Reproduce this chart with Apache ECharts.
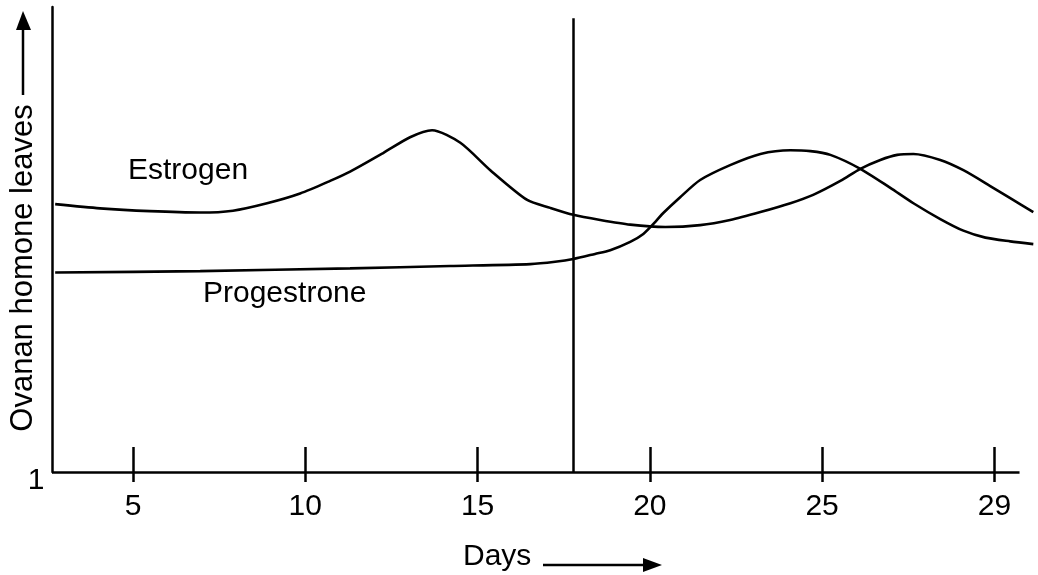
<!DOCTYPE html>
<html>
<head>
<meta charset="utf-8">
<script src="https://cdn.jsdelivr.net/npm/echarts@6/dist/echarts.min.js"></script>
<style>
html,body{margin:0;padding:0;background:#fff;}
#chart{width:1038px;height:575px;}
</style>
</head>
<body>
<div id="chart"></div>
<script>
// Data (x in axis units; the last tick position is labelled 29 in the source)
var estrogenDays = [2.74, 4.04, 5.49, 6.95, 7.90, 8.89, 9.85, 10.72, 11.30, 12.26, 13.04, 13.68, 14.50, 15.37, 16.44, 17.11, 17.78, 18.56, 19.43, 20.45, 21.46, 22.33, 23.21, 24.08, 24.74, 25.53, 26.11, 26.69, 27.18, 27.65, 28.43, 29.10, 29.88, 30.46, 31.13];
var estrogenVals = [57.6, 56.7, 56.1, 55.8, 56.2, 57.8, 59.9, 62.6, 64.6, 68.6, 72.0, 73.5, 70.8, 64.9, 58.5, 56.8, 55.3, 54.2, 53.2, 52.7, 53.1, 54.2, 55.9, 57.8, 59.6, 62.6, 65.2, 67.1, 68.2, 68.4, 67.1, 64.9, 61.5, 58.9, 55.9];
var progDays = [2.74, 6.95, 11.30, 14.20, 16.53, 17.25, 17.78, 18.41, 18.85, 19.43, 19.81, 20.16, 20.39, 20.88, 21.46, 22.33, 23.21, 24.08, 24.66, 25.24, 26.11, 26.98, 27.65, 28.43, 29.10, 29.74, 30.46, 31.13];
var progVals = [42.9, 43.2, 43.8, 44.3, 44.7, 45.2, 45.8, 46.9, 47.7, 49.5, 51.2, 53.8, 55.7, 59.1, 62.8, 66.0, 68.4, 69.2, 69.0, 68.2, 65.2, 61.1, 57.8, 54.4, 51.9, 50.4, 49.6, 49.0];
var tickPositions = [5, 10, 15, 20, 25, 30];
var tickLabels = ['5', '10', '15', '20', '25', '29'];
var ovulationDay = 17.78;
var ovulationTop = 97.6;
var xMin = 2.648, xMax = 31.15, xAxisEnd = 30.73;
var yMin = 0, yMax = 100;

function zip(a, b) { return a.map(function (v, i) { return [v, b[i]]; }); }

var FONT = "'Liberation Sans', Arial, sans-serif";
var chart = echarts.init(document.getElementById('chart'), null, {renderer: 'canvas'});
var option = {
  backgroundColor: '#ffffff',
  animation: false,
  grid: {left: 52, right: 4, top: 7, bottom: 575 - 472},
  xAxis: [{
    type: 'value', min: xMin, max: xMax,
    axisLine: {show: false},
    axisTick: {show: true, inside: true, length: 25, customValues: tickPositions, lineStyle: {color: '#000', width: 2.5}},
    axisLabel: {show: true, customValues: tickPositions, margin: 20, color: '#000', fontSize: 30, fontFamily: FONT,
      formatter: function (v) { var i = tickPositions.indexOf(v); return i >= 0 ? tickLabels[i] : ''; }},
    splitLine: {show: false}
  }, {
    type: 'value', min: xMin, max: xMax, position: 'bottom', offset: 0,
    axisLine: {show: false},
    axisTick: {show: true, inside: false, length: 10, customValues: tickPositions, lineStyle: {color: '#000', width: 2.5}},
    axisLabel: {show: false},
    splitLine: {show: false}
  }],
  yAxis: {
    type: 'value', min: yMin, max: yMax,
    axisLine: {show: true, lineStyle: {color: '#000', width: 2.5}},
    axisTick: {show: false}, axisLabel: {show: false}, splitLine: {show: false}
  },
  series: [{
    name: 'Estrogen', type: 'line', data: zip(estrogenDays, estrogenVals),
    smooth: 0.25, showSymbol: false, clip: false,
    lineStyle: {color: '#000', width: 2.6},
    markLine: {
      symbol: 'none', silent: true, label: {show: false},
      lineStyle: {color: '#000', width: 2.5, type: 'solid'},
      data: [
        [{coord: [ovulationDay, yMin]}, {coord: [ovulationDay, ovulationTop]}],
        [{coord: [xMin, yMin]}, {coord: [xAxisEnd, yMin]}]
      ]
    }
  }, {
    name: 'Progestrone', type: 'line', data: zip(progDays, progVals),
    smooth: 0.25, showSymbol: false, clip: false,
    lineStyle: {color: '#000', width: 2.6}
  }],
  graphic: [
    {type: 'text', left: 128, top: 173 - 17, style: {text: 'Estrogen', fill: '#000', font: '30px ' + FONT}},
    {type: 'text', left: 203, top: 296 - 17, style: {text: 'Progestrone', fill: '#000', font: '30px ' + FONT}},
    {type: 'text', x: 23, y: 268, rotation: Math.PI / 2,
      style: {text: 'Ovanan homone leaves', fill: '#000', font: '31px ' + FONT, align: 'center', verticalAlign: 'middle'}},
    {type: 'line', shape: {x1: 23, y1: 95, x2: 23, y2: 27}, style: {stroke: '#000', lineWidth: 2.5}},
    {type: 'polygon', shape: {points: [[23, 11], [16, 30], [31, 30]]}, style: {fill: '#000'}},
    {type: 'text', x: 36, y: 481, style: {text: '1', fill: '#000', font: '30px ' + FONT, align: 'center', verticalAlign: 'middle'}},
    {type: 'text', x: 463, y: 557, style: {text: 'Days', fill: '#000', font: '30px ' + FONT, align: 'left', verticalAlign: 'middle'}},
    {type: 'line', shape: {x1: 543, y1: 565, x2: 648, y2: 565}, style: {stroke: '#000', lineWidth: 2.5}},
    {type: 'polygon', shape: {points: [[662, 565], [643, 558], [643, 572]]}, style: {fill: '#000'}}
  ]
};
chart.setOption(option);
</script>
</body>
</html>
